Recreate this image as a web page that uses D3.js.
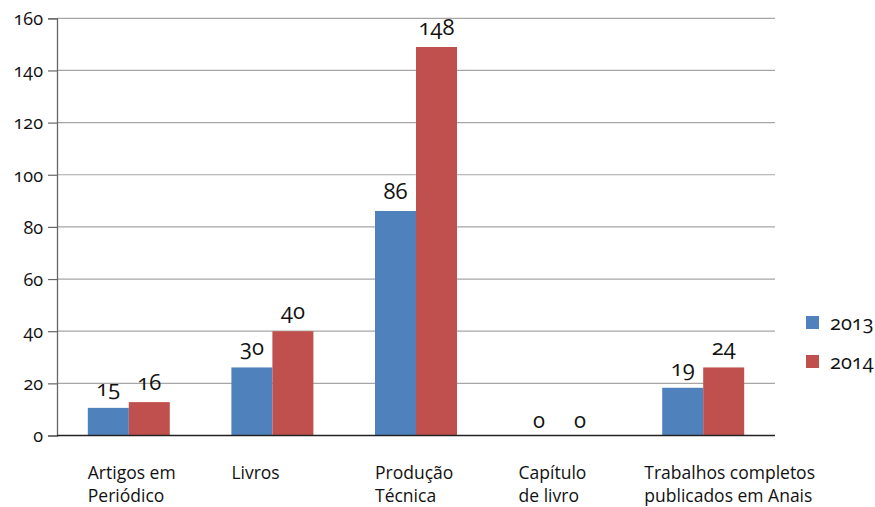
<!DOCTYPE html>
<html><head><meta charset="utf-8">
<script src="https://cdn.jsdelivr.net/npm/d3@7"></script>
<style>
body{margin:0;background:#fff;}
text{font-family:"Open Sans",Lato,sans-serif;font-variant-numeric:oldstyle-nums;font-feature-settings:"onum" 1;fill:#111;}
</style></head><body>
<svg id="c" width="875" height="507"></svg>
<script>
const categories = [["Artigos em","Periódico"],["Livros"],["Produção","Técnica"],["Capítulo","de livro"],["Trabalhos completos","publicados em Anais"]];
const series = ["2013","2014"];
const values2013 = [10.6, 26.1, 86.1, 0, 18.3];
const values2014 = [12.8, 40, 149, 0, 26.1];
const labels2013 = ["15","30","86","0","19"];
const labels2014 = ["16","40","148","0","24"];
const yTicks = [0,20,40,60,80,100,120,140,160];
const colors = ["#4F81BD","#C0504D"];

const svg = d3.select("#c");
const pLeft = 57, pRight = 775, pTop = 18.3, pBottom = 435.5;
const x = d3.scaleBand().domain(d3.range(categories.length)).range([pLeft,pRight]);
const xs = d3.scaleBand().domain(series).range([0,82]);
const y = d3.scaleLinear().domain([0,160]).range([pBottom,pTop]);

// gridlines
svg.append("g").selectAll("line").data(yTicks.filter(d=>d>0)).join("line")
  .attr("x1",pLeft).attr("x2",pRight).attr("y1",d=>y(d)).attr("y2",d=>y(d))
  .attr("stroke","#a6a6a6").attr("stroke-width",1.2);

// y axis
const ya = svg.append("g").attr("transform",`translate(${pLeft},0)`)
  .call(d3.axisLeft(y).tickValues(yTicks).tickSize(9).tickPadding(5));
ya.attr("font-family",null);
ya.select(".domain").attr("stroke","#666").attr("stroke-width",1.3);
ya.selectAll(".tick line").attr("stroke","#666").attr("stroke-width",1.2);
ya.selectAll(".tick text").attr("font-size",18).attr("fill","#111")
  .style("font-family",'"Open Sans",Lato,sans-serif')
  .style("font-variant-numeric","oldstyle-nums")
  .style("font-feature-settings",'"onum" 1')
  .attr("dy","0.35em");

// bars
const data = categories.map((c,i)=>({i, vals:[values2013[i],values2014[i]], labs:[labels2013[i],labels2014[i]]}));
const g = svg.append("g");
data.forEach(d=>{
  const cx = x(d.i) + x.bandwidth()/2 - 41;
  series.forEach((s,k)=>{
    const bx = cx + xs(s);
    g.append("rect").attr("x",bx).attr("y",y(d.vals[k])).attr("width",xs.bandwidth())
      .attr("height",pBottom - y(d.vals[k])).attr("fill",colors[k]);
    g.append("text").attr("x",bx + xs.bandwidth()/2).attr("y",y(d.vals[k]) - (d.vals[k]===0?8:12))
      .attr("text-anchor","middle").attr("font-size",22).text(d.labs[k]);
  });
});

// baseline
svg.append("line").attr("x1",pLeft).attr("x2",pRight).attr("y1",pBottom).attr("y2",pBottom)
  .attr("stroke","#222").attr("stroke-width",1.3);

// category labels
categories.forEach((lines,i)=>{
  const t = svg.append("text").attr("font-size",17.5).attr("fill","#333");
  lines.forEach((ln,j)=>t.append("tspan").attr("x",0).attr("y",479 + j*23).text(ln));
  let lx = x(i) + x.bandwidth()/2 - 41;
  const w = t.node().getBBox().width;
  if (lx + w > 815) lx = 815 - w;
  t.attr("transform",`translate(${lx},0)`);
});

// legend
series.forEach((s,k)=>{
  const ly = 316 + k*39;
  svg.append("rect").attr("x",806).attr("y",ly).attr("width",13).attr("height",13).attr("fill",colors[k]);
  svg.append("text").attr("x",830).attr("y",ly+14).attr("font-size",20).text(s);
});
</script></body></html>
